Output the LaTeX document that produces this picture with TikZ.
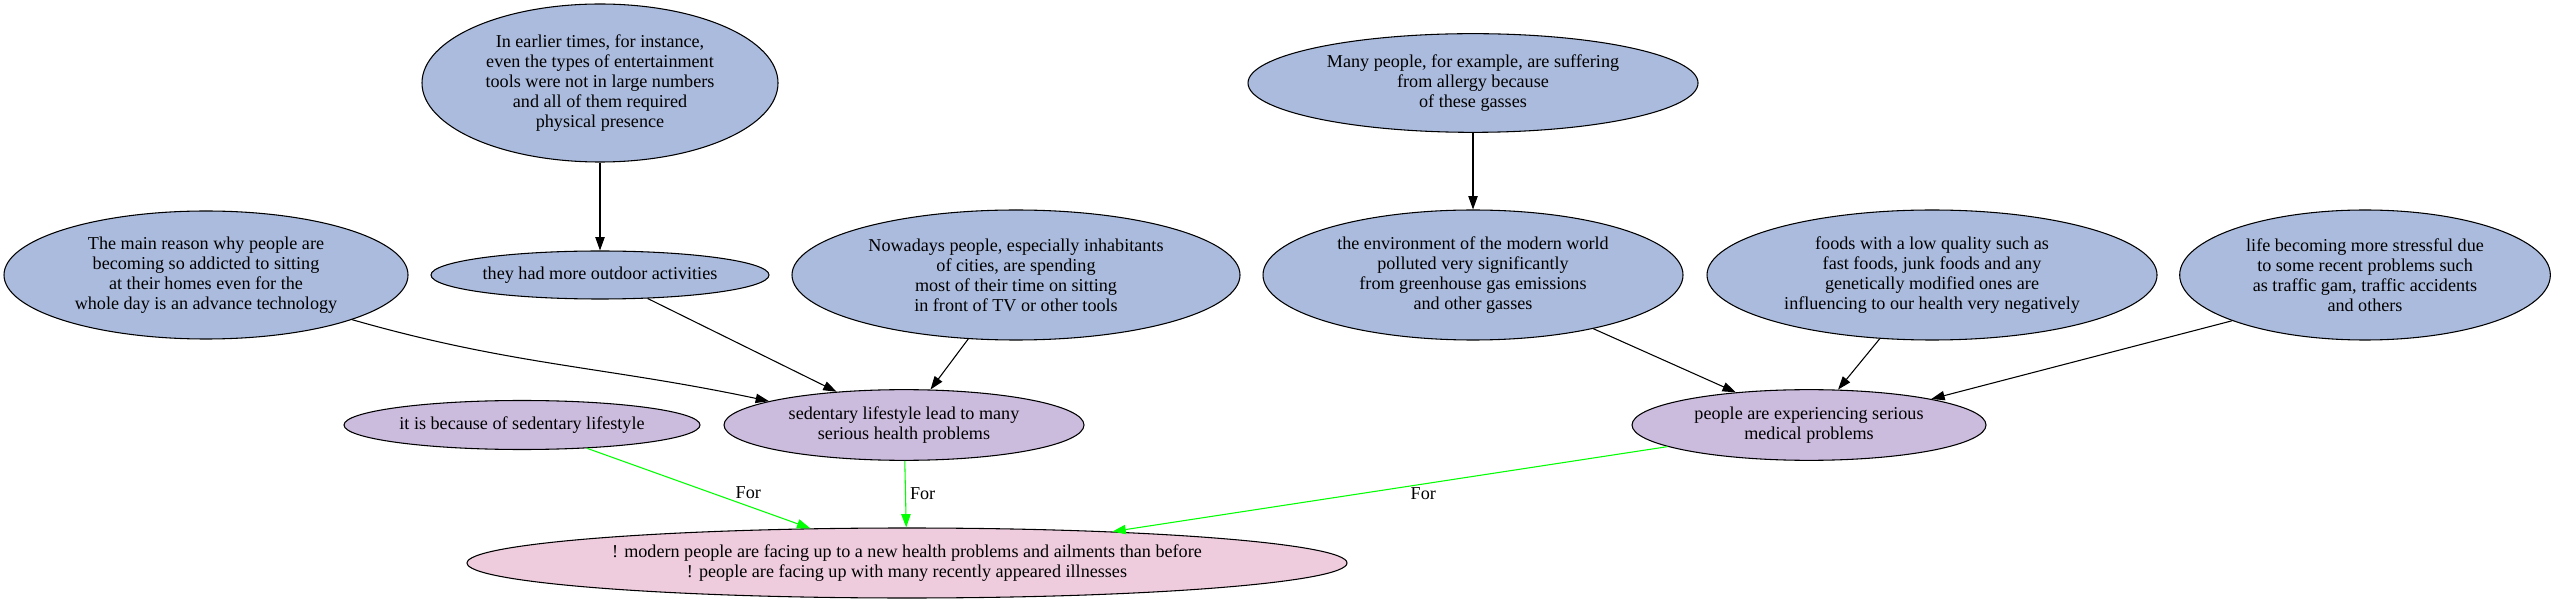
\documentclass[tikz,border=0pt]{standalone}
\usepackage{fontspec}
\setmainfont{Liberation Serif}
\usetikzlibrary{arrows.meta,shapes.geometric}

\definecolor{causeblue}{HTML}{AABBDD}
\definecolor{claimlilac}{HTML}{CBBBDD}
\definecolor{thesispink}{HTML}{EECCDD}
\definecolor{forgreen}{HTML}{00FF00}

\begin{document}
\begin{tikzpicture}[
    x=0.75pt, y=-0.75pt,
    bubble/.style={ellipse, draw=black, line width=0.8pt, inner sep=0pt,
    align=center, font=\fontsize{13.6}{15}\selectfont},
    cause/.style={bubble, fill=causeblue},
    claim/.style={bubble, fill=claimlilac},
    thesis/.style={bubble, fill=thesispink},
    pile/.style={line width=0.8pt, ->, >={Triangle[length=10pt, width=7pt]}},
    for line/.style={pile, draw=forgreen},
    for label/.style={inner sep=0pt, font=\fontsize{13.6}{15}\selectfont}
    ]

\useasboundingbox (0,0) rectangle (2558,605);

\node[cause, minimum width=267pt, minimum height=118.5pt] (earlier) at (600,83)
        {In earlier times, for instance,\\ even the types of entertainment\\
        tools were not in large numbers\\ and all of them required\\ physical presence};

\node[cause, minimum width=253.5pt, minimum height=36pt] (outdoor) at (600,275)
        {they had more outdoor activities};

\node[cause, minimum width=303pt, minimum height=96pt] (reason) at (206,275)
        {The main reason why people are\\ becoming so addicted to sitting\\
        at their homes even for the\\ whole day is an advance technology};

\node[cause, minimum width=336pt, minimum height=97.5pt] (nowadays) at (1016,275)
        {Nowadays people, especially inhabitants\\ of cities, are spending\\
        most of their time on sitting\\ in front of TV or other tools};

\node[claim, minimum width=267pt, minimum height=36.75pt] (because) at (522,425)
        {it is because of sedentary lifestyle};

\node[claim, minimum width=270pt, minimum height=53pt] (sedentary) at (904,425)
        {sedentary lifestyle lead to many\\ serious health problems};

\node[thesis, minimum width=660pt, minimum height=52.5pt] (main) at (907,563)
        {! modern people are facing up to a new health problems and ailments than before\\
        ! people are facing up with many recently appeared illnesses};

\node[cause, minimum width=337.5pt, minimum height=74pt] (many) at (1473,83)
        {Many people, for example, are suffering\\ from allergy because\\ of these gasses};

\node[cause, minimum width=315pt, minimum height=97.5pt] (environment) at (1473,275)
        {the environment of the modern world\\ polluted very significantly\\
        from greenhouse gas emissions\\ and other gasses};

\node[cause, minimum width=337.5pt, minimum height=97.5pt] (foods) at (1932,275)
        {foods with a low quality such as\\ fast foods, junk foods and any\\
        genetically modified ones are\\ influencing to our health very negatively};

\node[cause, minimum width=278pt, minimum height=97.5pt] (life) at (2365,275)
        {life becoming more stressful due\\ to some recent problems such\\
        as traffic gam, traffic accidents\\ and others};

\node[claim, minimum width=265.5pt, minimum height=53pt] (medical) at (1809,425)
        {people are experiencing serious\\ medical problems};

\draw[pile] (earlier) -- (outdoor);

\draw[pile] (reason.343) to[out=-16, in=168] (sedentary.170);

\draw[pile] (outdoor) -- (sedentary);

\draw[pile] (nowadays) -- (sedentary);

\draw[pile] (many) -- (environment);

\draw[pile] (environment) -- (medical);

\draw[pile] (foods) -- (medical);

\draw[pile] (life.199) -- (medical.12);

\draw[for line] (because) -- (main)
    node[for label, pos=0.556, right=18pt] {For};

\draw[for line] (sedentary) -- (main)
    node[for label, pos=0.49, right=3pt] {For};

\draw[for line] (medical) -- (main)
    node[for label, pos=0.44, below=2pt] {For};

\end{tikzpicture}
\end{document}
